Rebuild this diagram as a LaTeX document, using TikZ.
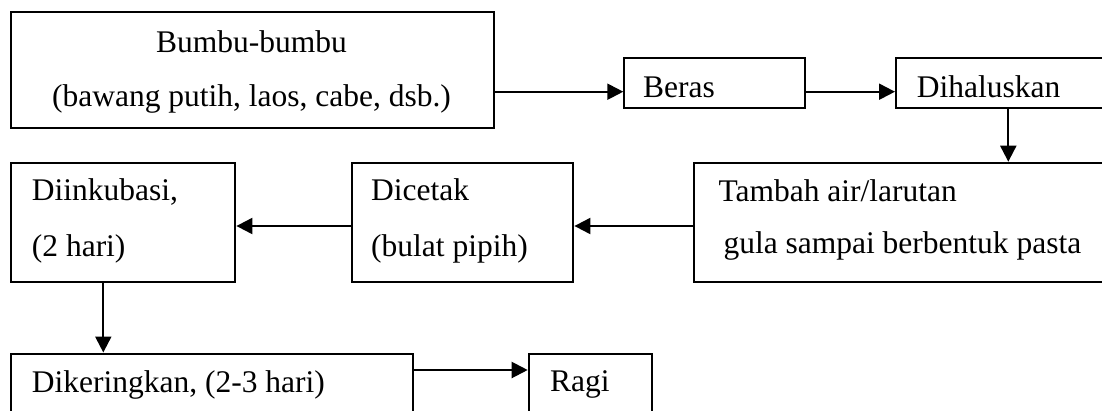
\documentclass[tikz,border=0pt]{standalone}
\usepackage{fontspec}
\setmainfont{Liberation Serif}
\usetikzlibrary{arrows.meta,calc}
\tikzset{
  box/.style={draw=black, line width=2.1pt, inner sep=0pt, anchor=north west},
  txt/.style={inner sep=0pt, anchor=base west, font=\fontsize{31.5}{38}\selectfont},
  ctxt/.style={inner sep=0pt, anchor=base, font=\fontsize{31.5}{38}\selectfont},
  arr/.style={line width=2.1pt, -{Triangle[length=16pt,width=16pt]}}
}
\begin{document}
\begin{tikzpicture}[x=1pt,y=-1pt]
\useasboundingbox (0,0) rectangle (1102,410);
\clip (0,0) rectangle (1102,410);
\fill[white] (0,0) rectangle (1102,410);
% boxes
\node[box, minimum width=483pt, minimum height=115.7pt] (bumbu) at (10,11) {};
\node[box, minimum width=181pt, minimum height=49.4pt] (beras) at (623.3,57.3) {};
\node[box, minimum width=230pt, minimum height=49.4pt] (dihal) at (895,57.3) {};
\node[box, minimum width=420pt, minimum height=119pt] (tambah) at (693.3,161.7) {};
\node[box, minimum width=221.6pt, minimum height=119pt] (dicetak) at (350.7,161.7) {};
\node[box, minimum width=224.3pt, minimum height=119pt] (inkub) at (10,161.7) {};
\node[box, minimum width=401.7pt, minimum height=90pt] (kering) at (10,352.5) {};
\node[box, minimum width=123pt, minimum height=90pt] (ragi) at (527.7,353.3) {};
% texts
\node[ctxt] (t1a) at (251.5,52) {Bumbu-bumbu};
\node[ctxt] (t1b) at (251.5,106) {(bawang putih, laos, cabe, dsb.)};
\node[txt] (t2) at (643,97.3) {Beras};
\node[txt] (t3) at (916.7,97.3) {Dihaluskan};
\node[txt] (t4a) at (718.3,201) {Tambah air/larutan};
\node[txt] (t4b) at (723.3,253) {gula sampai berbentuk pasta};
\node[txt] (t5a) at (371,200.7) {Dicetak};
\node[txt] (t5b) at (371,256) {(bulat pipih)};
\node[txt] (t6a) at (31.7,200.7) {Diinkubasi,};
\node[txt] (t6b) at (31.7,256) {(2 hari)};
\node[txt] (t7) at (31.7,392.7) {Dikeringkan, (2-3 hari)};
\node[txt] (t8) at (550,391.7) {Ragi};
% connector guides
\coordinate (r1) at (0,91.7);
\coordinate (r2) at (0,226);
\coordinate (r3) at (0,370);
\coordinate (c1) at (1008.3,0);
\coordinate (c2) at (103.3,0);
% connectors
\draw[arr] (bumbu.east |- r1) -- (beras.west |- r1);
\draw[arr] (beras.east |- r1) -- (dihal.west |- r1);
\draw[arr] (dihal.south -| c1) -- (tambah.north -| c1);
\draw[arr] (tambah.west |- r2) -- (dicetak.east |- r2);
\draw[arr] (dicetak.west |- r2) -- (inkub.east |- r2);
\draw[arr] (inkub.south -| c2) -- (kering.north -| c2);
\draw[arr] (kering.east |- r3) -- (ragi.west |- r3);
\end{tikzpicture}
\end{document}
